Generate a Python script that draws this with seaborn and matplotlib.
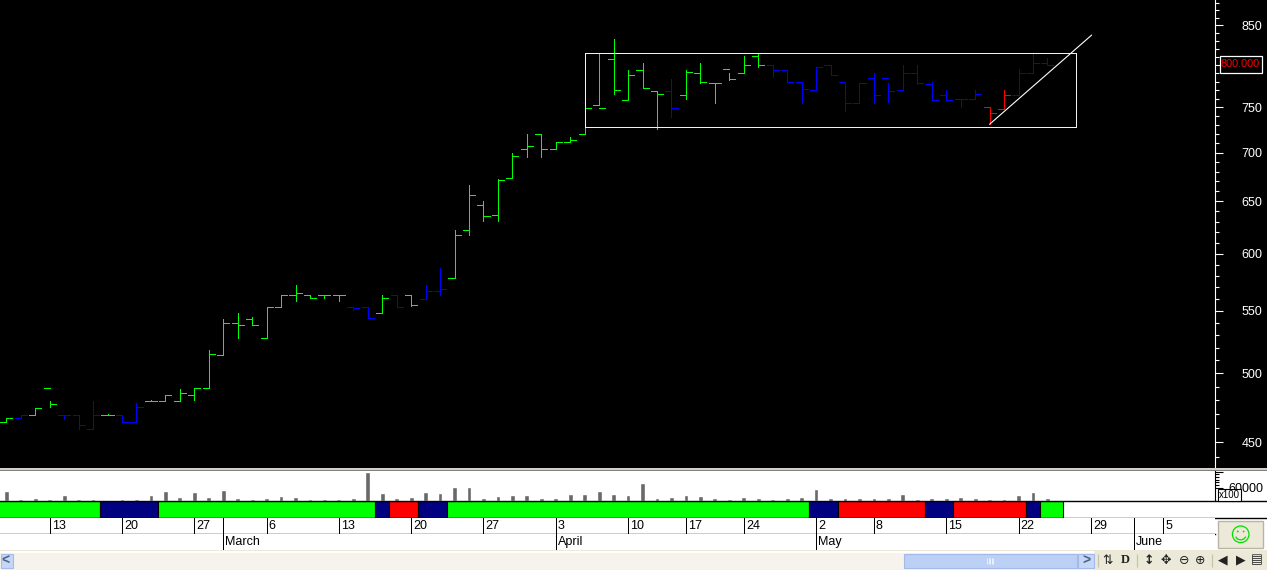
import numpy as np
import pandas as pd
import seaborn as sns
import matplotlib.pyplot as plt
from matplotlib.patches import Rectangle, Circle, Arc

plt.switch_backend('agg')

# daily bars
opens = [464,467,469,489,469,469,459,469,469,464,479,479,479,484,489,514,540,543,528,553,563,563,563,563,553,553,548,563,563,560,567,578,622,646,637,673,704,720,704,712,720,753,808,759,794,769,769,764,791,779,795,790,811,800,794,780,770,800,780,755,785,785,770,790,777,764,760,760,750,748,764,790,803]
highs = [467,469,474,479,469,469,479,470,469,478,480,484,488,489,518,543,548,545,553,563,572,563,563,563,553,553,563,563,563,572,587,622,666,650,672,700,720,720,712,717,749,814,832,794,803,769,783,794,803,779,790,811,814,800,794,780,798,800,780,779,790,778,800,800,780,770,760,770,750,770,795,814,809]
lows = [464,467,469,475,466,459,459,469,464,464,479,479,479,480,489,514,528,538,528,553,558,561,561,558,551,544,548,553,554,560,563,578,617,631,631,673,695,695,704,711,720,753,765,759,773,726,739,760,778,755,782,790,798,786,780,755,770,788,746,755,755,756,770,777,757,757,751,760,731,748,764,790,800]
closes = [467,469,474,477,469,462,469,469,464,475,479,484,485,489,515,540,538,538,553,563,565,561,563,563,552,544,561,553,555,567,569,617,656,636,671,696,707,704,711,714,749,749,770,788,773,765,749,792,780,778,783,800,800,794,780,771,798,788,755,779,764,769,790,779,759,758,760,765,744,764,790,803,800]
bar_state = "gbggbbbgbbggggggggggggggbbgbgbbgggggggggggggggbggggggbbbbbbbbbbbbbbbrrbbb"
volume = [45600,10300,14700,10300,27900,10300,10300,5900,10300,10300,27900,45600,19100,41200,19100,50000,14700,10300,14700,23500,19100,10300,10300,10300,14700,127900,36800,14700,19100,41200,36800,63200,63200,14700,23500,27900,27900,14700,14700,32300,32300,45600,32300,27900,80900,14700,19100,27900,23500,14700,10300,19100,14700,10300,14700,19100,54400,14700,14700,14700,14700,14700,32300,10300,14700,14700,19100,14700,10300,10300,27900,41200,14700]

price_ticks = [450,500,550,600,650,700,750,800,850]
price_labels = ['450','500','550','600','650','700','750','','850']
price_minor = [440,460,470,480,490,510,520,530,540,560,570,580,590,610,620,630,640,660,670,680,690,710,720,730,740,760,770,780,790,810,820,830,840,860,870,880]

state_edges = [-1,6.5,10.5,25.5,26.5,28.5,30.5,55.5,57.5,63.5,65.5,70.5,71.5,73.1]
state_colors = ['g','n','g','n','r','n','g','n','r','n','r','n','g']

day_pos = [3,8,13,18,23,28,33,38,43,47,51,56,60,65,70,75,80]
day_labels = ['13','20','27','6','13','20','27','3','10','17','24','2','8','15','22','29','5']
month_pos = [15,38,56,78]
month_labels = ['March','April','May','June']

box_x = [40,74]
box_y = [727.4,814.4]
trend_x = [68,75.06]
trend_y = [731,837.5]
last_price = '800.000'

W, H = 1267, 570
PAL = {'g':'#00ff00','b':'#0000ff','r':'#ff0000','n':'#000080'}
LW = 0.7

sns.set_theme(style='white')
plt.rcParams['font.family'] = ['Liberation Sans','DejaVu Sans']
plt.rcParams['font.size'] = 9

fig = plt.figure(figsize=(W/100,H/100),dpi=100,facecolor='white')

def px_axes(x0,y0,x1,y1,**kw):
    return fig.add_axes([x0/W,1-y1/H,(x1-x0)/W,(y1-y0)/H],**kw)

def to_bar(px):
    return (px-6.3)/14.46

# window background
bg = px_axes(0,0,W,H,zorder=0)
bg.set_xlim(0,W); bg.set_ylim(H,0); bg.axis('off')
bg.add_patch(Rectangle((0,0),W,468,fc='black',ec='none'))
bg.add_patch(Rectangle((0,468),W,2,fc='#d4d0c8',ec='none'))
bg.add_patch(Rectangle((0,470),W,1,fc='#808080',ec='none'))
bg.add_patch(Rectangle((0,550),W,1,fc='#ece9d8',ec='none'))
bg.add_patch(Rectangle((0,553),W,17,fc='#f5f3ec',ec='none'))
bg.add_patch(Rectangle((1094,551),W-1094,19,fc='#ece9d8',ec='none'))

# price panel
ax = px_axes(0,0,1215.3,467.5,zorder=1,facecolor='black')
idx = np.arange(len(opens))
cols = [PAL[s] for s in bar_state]
ax.vlines(idx,lows,highs,colors=cols,lw=LW,antialiased=False)
ax.hlines(opens,idx-0.42,idx,colors=cols,lw=LW,antialiased=False)
ax.hlines(closes,idx,idx+0.42,colors=cols,lw=LW,antialiased=False)
ax.plot([box_x[0],box_x[1],box_x[1],box_x[0],box_x[0]],[box_y[0],box_y[0],box_y[1],box_y[1],box_y[0]],color='#f5f0f0',lw=LW,antialiased=False)
ax.plot(trend_x,trend_y,color='white',lw=0.8)
ax.set_yscale('log')
ax.set_xlim(to_bar(0),to_bar(1215.3))
ax.set_ylim(433.1,883.5)
ax.yaxis.tick_right()
ax.set_yticks(price_ticks,price_labels)
ax.set_yticks(price_minor,labels=[],minor=True)
ax.tick_params(axis='y',which='major',length=5.8,width=0.8,color='white',labelcolor='white',pad=13,labelsize=9)
ax.tick_params(axis='y',which='minor',length=2.6,width=0.8,color='white',right=True)
ax.set_xticks([])
for s in ['left','top','bottom']:
    ax.spines[s].set_visible(False)
ax.spines['right'].set_color('white')
ax.spines['right'].set_linewidth(0.8)

# volume panel
ax_vol = px_axes(0,471,1215.3,501.3,zorder=1,facecolor='white')
df = pd.DataFrame({'bar':idx,'volume':volume})
sns.barplot(data=df,x='bar',y='volume',native_scale=True,color='#696969',saturation=1,width=0.33,ax=ax_vol)
ax_vol.set_xlim(to_bar(0),to_bar(1215.3))
ax_vol.set_ylim(0,133700)
ax_vol.set_xlabel(''); ax_vol.set_ylabel('')
ax_vol.set_xticks([])
ax_vol.yaxis.tick_right()
ax_vol.set_yticks([60000,129000],['60000',''])
ax_vol.set_yticks([72000,84000,96000,108000,120000],labels=[],minor=True)
ax_vol.tick_params(axis='y',which='major',length=5.8,width=0.8,color='black',labelcolor='black',pad=3.5,labelsize=9)
ax_vol.tick_params(axis='y',which='minor',length=3,width=0.8,color='black',right=True)
for s in ['left','top','bottom']:
    ax_vol.spines[s].set_visible(False)
ax_vol.spines['right'].set_color('black')
ax_vol.spines['right'].set_linewidth(0.8)

# coloured state strip
ax_state = px_axes(0,501.3,W,518.3,zorder=1,facecolor='white')
for a,b,c in zip(state_edges[:-1],state_edges[1:],state_colors):
    ax_state.broken_barh([(a,b-a)],(0,1),facecolors=PAL[c],edgecolor='black',lw=0.8)
ax_state.set_xlim(to_bar(0),to_bar(W))
ax_state.set_ylim(0,1)
ax_state.set_xticks([]); ax_state.set_yticks([])
for s in ['left','right']:
    ax_state.spines[s].set_visible(False)
for s in ['top','bottom']:
    ax_state.spines[s].set_color('black')
    ax_state.spines[s].set_linewidth(1)

# day and month rows
ax_day = px_axes(0,518.3,1215.3,534.3,zorder=1,facecolor='white')
ax_day.vlines(day_pos+month_pos,0,1,colors='black',lw=LW,antialiased=False)
for p,t in zip(day_pos,day_labels):
    ax_day.annotate(t,(p,0.5),xytext=(1.5,0),textcoords='offset points',va='center',ha='left',color='black',fontsize=9)
ax_month = px_axes(0,534.3,1215.3,550,zorder=1,facecolor='white')
ax_month.vlines(month_pos,0,1,colors='black',lw=LW,antialiased=False)
for p,t in zip(month_pos,month_labels):
    ax_month.annotate(t,(p,0.5),xytext=(1.5,0),textcoords='offset points',va='center',ha='left',color='black',fontsize=9)
for a in [ax_day,ax_month]:
    a.set_xlim(to_bar(0),to_bar(1215.3))
    a.set_ylim(0,1)
    a.set_xticks([]); a.set_yticks([])
    for s in ['left','right','top']:
        a.spines[s].set_visible(False)
    a.spines['bottom'].set_color('black')
    a.spines['bottom'].set_linewidth(1)
ax_month.spines['bottom'].set_visible(False)

# things drawn over the panels
top = px_axes(0,0,W,H,zorder=5)
top.set_xlim(0,W); top.set_ylim(H,0); top.axis('off'); top.patch.set_alpha(0)
top.add_patch(Rectangle((1219.5,55.5),42,17,fc='black',ec='white',lw=0.9))
top.text(1240.5,64,last_price,color='#ff0000',ha='center',va='center',fontsize=7.8)
top.add_patch(Rectangle((1217.5,488.7),23,12.6,fc='white',ec='black',lw=0.8))
top.text(1229.5,495.3,'x100',color='black',ha='center',va='center',fontsize=7)

# smiley button
top.add_patch(Rectangle((1218,521),45,26.5,fc='#ece9d8',ec='#b8b5a6',lw=1))
top.add_patch(Circle((1240.7,534.3),8.3,fc='none',ec='#00e000',lw=0.9))
top.add_patch(Arc((1240.7,534.3),11,11,theta1=25,theta2=155,ec='#00e000',lw=0.9))
top.add_patch(Circle((1237.8,531.5),0.9,fc='#00e000',ec='none'))
top.add_patch(Circle((1243.6,531.5),0.9,fc='#00e000',ec='none'))

# scroll bar
top.add_patch(Rectangle((0.5,553.5),12.5,14.5,fc='#c5d6f7',ec='#a8bce8',lw=0.8))
top.text(5,560.5,'<',color='#4d6185',fontweight='bold',ha='center',va='center',fontsize=10)
top.add_patch(Rectangle((904,553.5),172.5,14.5,fc='#bcd0f5',ec='#a3b9ea',lw=0.8))
top.vlines([987,988.5,990,991.5,993],557.5,564,colors='#f0f4fe',lw=0.6)
top.add_patch(Rectangle((1078,553.5),15.5,14.5,fc='#c5d6f7',ec='#a3b9ea',lw=0.8))
top.text(1086,560.5,'>',color='#4d6185',fontweight='bold',ha='center',va='center',fontsize=10)

# toolbar
top.vlines([1097.5,1137,1211.7],554,567,colors='#c5c2b0',lw=0.9)
tool_x = [1108,1125,1149,1166,1183.7,1200.5,1223,1240.7,1256.7]
tool_txt = ['⇅','D','↕','✥','⊖','⊕','◀','▶','▤']
for x,t in zip(tool_x,tool_txt):
    fam = ['Liberation Serif'] if t=='D' else ['DejaVu Sans']
    top.text(x,560,t,color='#222222',ha='center',va='center',fontsize=9,family=fam,fontweight='bold' if t in 'D↕' else 'normal')

fig.savefig('out.png',dpi=100)
